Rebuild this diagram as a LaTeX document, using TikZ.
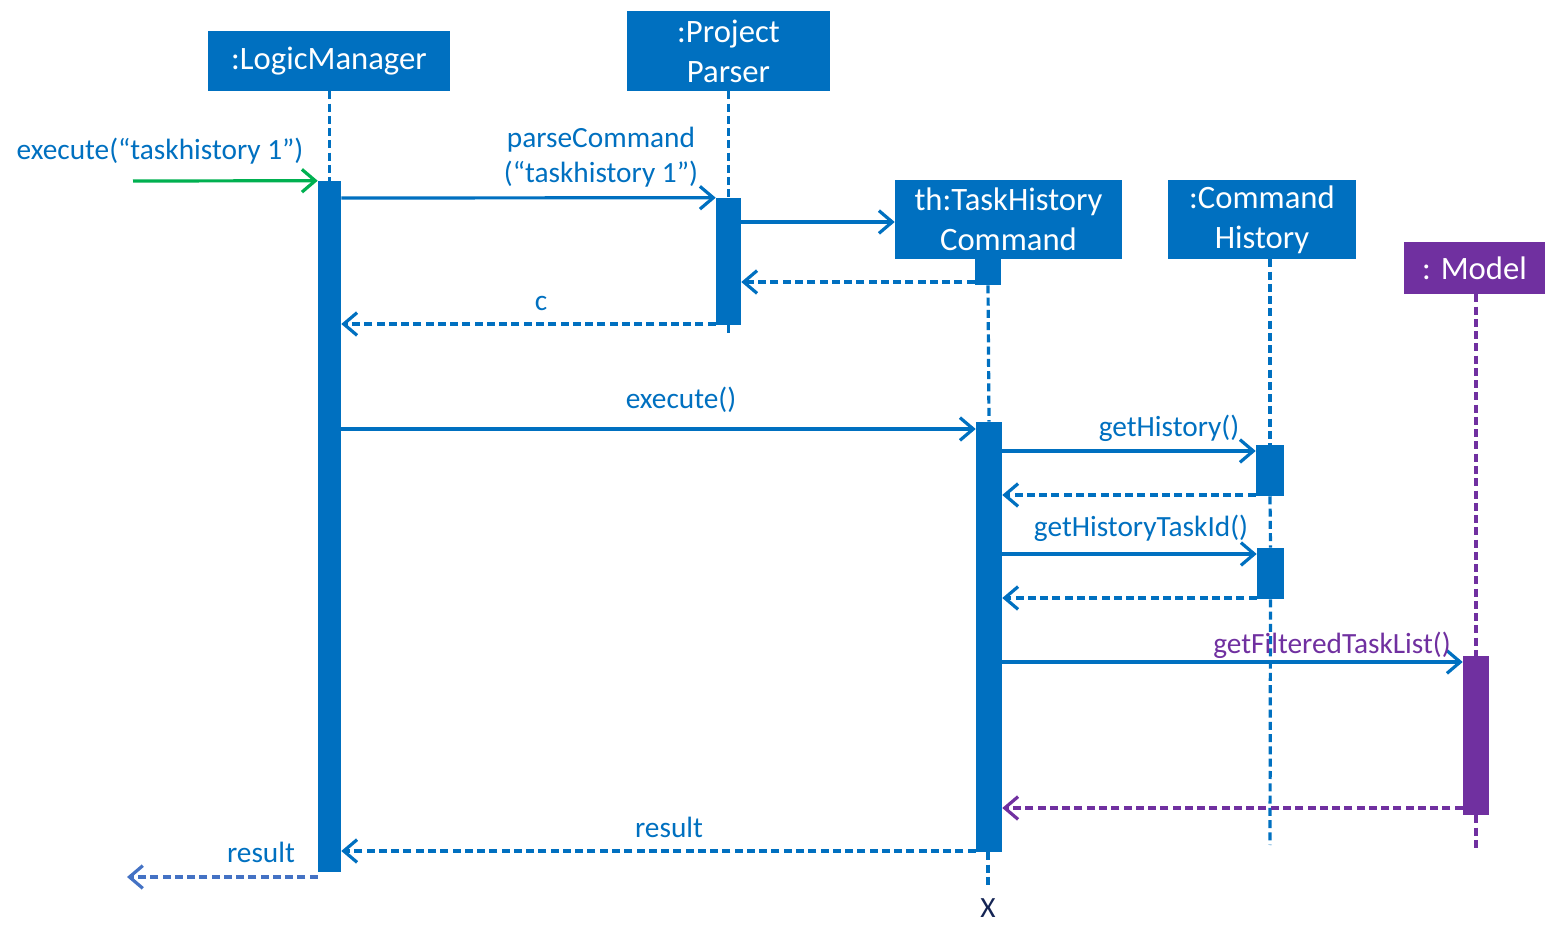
\documentclass[tikz,border=0pt]{standalone}
\usepackage{fontspec}
\setmainfont{Carlito}
\usetikzlibrary{arrows.meta}
\usetikzlibrary{fit}

\definecolor{umlblue}{RGB}{0,112,192}
\definecolor{umlpurple}{RGB}{112,48,160}
\definecolor{umlgreen}{RGB}{0,176,80}
\definecolor{retblue}{RGB}{68,114,196}
\definecolor{xnavy}{RGB}{20,36,84}

\tikzset{
  obj/.style={fill=umlblue, inner sep=0pt},
  objtext/.style={text=white, align=center, inner sep=0pt,
    font=\fontsize{24.5}{30}\selectfont},
  act/.style={fill=umlblue, inner sep=0pt},
  life/.style={umlblue, line width=2.4pt, dash pattern=on 6pt off 3.2pt},
  msg/.style={umlblue, line width=2.4pt,
    -{Straight Barb[length=10pt,width=17pt]}},
  ret/.style={msg, dash pattern=on 6pt off 3.2pt},
  lbl/.style={text=umlblue, inner sep=0pt, align=center,
    font=\fontsize{22}{26}\selectfont},
}

\begin{document}
\begin{tikzpicture}[x=0.75pt,y=0.75pt,yscale=-1,xscale=1]
\useasboundingbox (0,0) rectangle (1547,937);

%Objects
\node[obj, fit={(208,31) (450,91)},
  label={[objtext]center::LogicManager}] (lm) {};
\node[obj, fit={(627,11) (830,91)},
  label={[objtext]center::Project\\Parser}] (pp) {};
\node[obj, fit={(895,180) (1122,259)},
  label={[objtext]center:th:TaskHistory\\Command}] (th) {};
\node[obj, fit={(1168,180) (1356,259)},
  label={[objtext]center::Command\\History}] (ch) {};
\node[obj, fill=umlpurple, fit={(1404,242) (1545,294)},
  label={[objtext]center:: Model}] (md) {};

%Lifeline ends
\coordinate (ppend) at (728.5,335);
\coordinate (thend) at (988,888);
\coordinate (chend) at (1270,845);
\coordinate (mdend) at (1476,851);
\coordinate (start) at (133,181);
\coordinate (exit) at (127,877);

%Activations
\node[act, fit={(318,181) (341,872)}] (lmact) {};
\node[act, fit={(716,198) (741,325)}] (ppact) {};
\node[act, fit={(975,259) (1001,285)}] (thstub) {};
\node[act, fit={(976,422) (1002,852)}] (thact) {};
\node[act, fit={(1256,445) (1284,496)}] (chact1) {};
\node[act, fit={(1257,548) (1284,599)}] (chact2) {};
\node[act, fill=umlpurple, fit={(1463,656) (1489,815)}] (mdact) {};

%Lifelines
\draw[life] (lm.south -| lmact) -- (lmact.north);
\draw[life] (pp.south -| ppact) -- (ppact.north);
\draw[life] (ppact.south) -- (ppend);
\draw[life] (thstub.south) -- (thact.north);
\draw[life] (thact.south -| thend) -- (thend);
\draw[life] (ch.south -| chend) -- (chact1.north);
\draw[life] (chact1.south) -- (chact2.north);
\draw[life] (chact2.south) -- (chend);
\draw[life, umlpurple] (md.south -| mdend) -- (mdact.north);
\draw[life, umlpurple] (mdact.south) -- (mdend);

%Messages
\draw[msg, umlgreen] (start) -- (lmact.north west);
\draw[msg] (lmact.east |- 0,198) -- (ppact.north west);
\draw[msg] (ppact.east |- 0,222) -- (th.west |- 0,222);
\draw[ret] (thstub.west |- 0,282) -- (ppact.east |- 0,282);
\draw[ret] (ppact.west |- 0,324) -- (lmact.east |- 0,324);
\draw[msg] (lmact.east |- 0,429) -- (thact.west |- 0,429);
\draw[msg] (thact.east |- 0,451) -- (chact1.west |- 0,451);
\draw[ret] (chact1.west |- 0,495) -- (thact.east |- 0,495);
\draw[msg] (thact.east |- 0,554) -- (chact2.west |- 0,554);
\draw[ret] (chact2.west |- 0,598) -- (thact.east |- 0,598);
\draw[msg] (thact.east |- 0,662) -- (mdact.west |- 0,662);
\draw[ret, umlpurple] (mdact.west |- 0,808) -- (thact.east |- 0,808);
\draw[ret] (thact.west |- 0,851) -- (lmact.east |- 0,851);
\draw[ret, retblue] (lmact.south west |- 0,877) -- (exit);

%Labels
\node[lbl] (lblin) at (160,151) {execute(“taskhistory 1”)};
\node[lbl] (lblparse) at (601,157) {parseCommand\\(“taskhistory 1”)};
\node[lbl] (lblc) at (541,303) {c};
\node[lbl] (lblexec) at (681,400) {execute()};
\node[lbl] (lblhist) at (1169,428) {getHistory()};
\node[lbl] (lbltaskid) at (1141,528) {getHistoryTaskId()};
\node[lbl, text=umlpurple] (lblfilter) at (1332,645) {getFilteredTaskList()};
\node[lbl] (lblres) at (669,827) {result};
\node[lbl] (lblout) at (261,852) {result};
\node[lbl, text=xnavy] (lblx) at (988,908) {X};

\end{tikzpicture}
\end{document}
